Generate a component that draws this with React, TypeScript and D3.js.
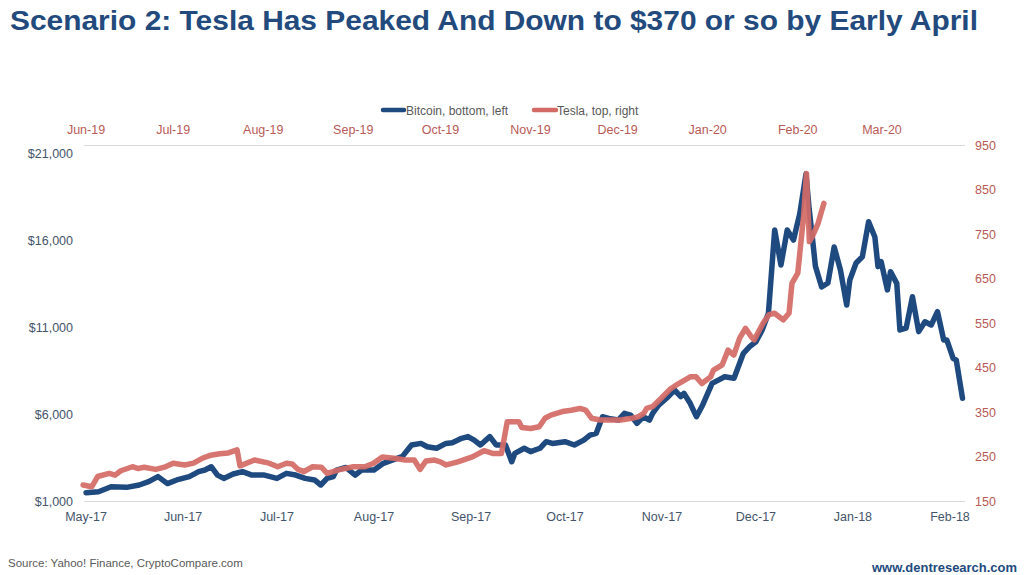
import React from "react";
import * as d3 from "d3";

const TITLE = "Scenario 2: Tesla Has Peaked And Down to $370 or so by Early April";
const SOURCE = "Source: Yahoo! Finance, CryptoCompare.com";
const SITE = "www.dentresearch.com";

// Bitcoin daily close (USD), bottom/left axes
const btcDates = [
  "2017-05-01","2017-05-05","2017-05-09","2017-05-14","2017-05-18","2017-05-21","2017-05-24","2017-05-27","2017-05-30",
  "2017-06-03","2017-06-06","2017-06-08","2017-06-10","2017-06-12","2017-06-14","2017-06-17","2017-06-20","2017-06-23","2017-06-27",
  "2017-07-01","2017-07-04","2017-07-07","2017-07-10","2017-07-13","2017-07-15","2017-07-17","2017-07-19","2017-07-20","2017-07-23","2017-07-26","2017-07-28",
  "2017-08-01","2017-08-04","2017-08-07","2017-08-10","2017-08-13","2017-08-16","2017-08-18","2017-08-21","2017-08-24","2017-08-26","2017-08-29","2017-08-31",
  "2017-09-02","2017-09-04","2017-09-07","2017-09-09","2017-09-12","2017-09-14","2017-09-15","2017-09-18","2017-09-20","2017-09-23","2017-09-25","2017-09-27",
  "2017-10-01","2017-10-04","2017-10-07","2017-10-09","2017-10-11","2017-10-13","2017-10-15","2017-10-18","2017-10-20","2017-10-22","2017-10-24","2017-10-26","2017-10-28","2017-10-29","2017-10-31",
  "2017-11-03","2017-11-05","2017-11-07","2017-11-08","2017-11-10","2017-11-12","2017-11-14","2017-11-17","2017-11-19","2017-11-21","2017-11-24","2017-11-27","2017-11-29",
  "2017-12-01","2017-12-03","2017-12-05","2017-12-07","2017-12-09","2017-12-11","2017-12-13","2017-12-15","2017-12-17","2017-12-18","2017-12-19","2017-12-20","2017-12-22","2017-12-24","2017-12-26","2017-12-28","2017-12-30","2017-12-31",
  "2018-01-02","2018-01-04","2018-01-06","2018-01-08","2018-01-09","2018-01-10","2018-01-12","2018-01-13","2018-01-15","2018-01-16","2018-01-18","2018-01-20","2018-01-22","2018-01-24","2018-01-26","2018-01-28","2018-01-30","2018-01-31",
  "2018-02-02","2018-02-03","2018-02-05"
];
const btcValues = [
  1480,1535,1820,1785,1920,2110,2400,2000,2210,
  2400,2690,2780,2970,2490,2300,2550,2690,2490,2490,
  2300,2590,2490,2300,2210,1920,2300,2400,2780,2930,2490,2780,
  2780,3165,3360,3550,4220,4310,4120,4030,4310,4350,4600,4700,
  4500,4220,4700,4220,4220,3260,3740,4030,3835,4030,4410,4310,
  4410,4220,4500,4790,4890,5845,5750,5655,6040,5940,5460,5840,5655,6040,6520,
  7000,7380,7000,7190,6615,5845,6520,7760,7950,8140,8050,9490,9870,
  10150,10830,11790,16575,14560,16575,16000,17500,19800,17800,16200,14500,13300,13530,15600,14280,12260,13700,
  14680,15040,17050,16170,14470,14760,13130,14180,13510,10830,10940,12740,10735,11300,11115,11880,10250,10250,
  9200,9100,6900
];

// Tesla daily close (USD), top/right axes
const tslaDates = [
  "2019-05-31","2019-06-03","2019-06-05","2019-06-09","2019-06-11","2019-06-13","2019-06-17","2019-06-19","2019-06-21","2019-06-25","2019-06-28",
  "2019-07-01","2019-07-05","2019-07-08","2019-07-11","2019-07-14","2019-07-17","2019-07-20","2019-07-23","2019-07-24","2019-07-29",
  "2019-08-03","2019-08-06","2019-08-09","2019-08-11","2019-08-13","2019-08-15","2019-08-18","2019-08-21","2019-08-23","2019-08-27",
  "2019-09-01","2019-09-05","2019-09-08","2019-09-11","2019-09-15","2019-09-19","2019-09-22","2019-09-24","2019-09-26","2019-09-29",
  "2019-10-01","2019-10-03","2019-10-07","2019-10-12","2019-10-16","2019-10-19","2019-10-22","2019-10-24","2019-10-28","2019-10-29",
  "2019-11-01","2019-11-04","2019-11-06","2019-11-08","2019-11-12","2019-11-15","2019-11-18","2019-11-20","2019-11-22","2019-11-25","2019-11-29",
  "2019-12-02","2019-12-06","2019-12-08","2019-12-10","2019-12-11","2019-12-13","2019-12-16","2019-12-19","2019-12-22","2019-12-26","2019-12-28","2019-12-30",
  "2020-01-02","2020-01-03","2020-01-06","2020-01-08","2020-01-10","2020-01-12","2020-01-14","2020-01-16","2020-01-17","2020-01-20","2020-01-22","2020-01-24","2020-01-27","2020-01-29","2020-01-30",
  "2020-02-01","2020-02-03","2020-02-04","2020-02-05","2020-02-06","2020-02-08","2020-02-10"
];
const tslaValues = [
  186,182,205,212,208,218,227,223,226,221,226,
  235,231,235,246,253,256,258,265,229,242,
  235,227,235,233,221,216,227,226,212,220,
  227,227,235,249,246,242,242,221,240,242,
  238,231,238,249,263,257,257,328,328,315,
  313,317,336,343,351,354,358,354,336,332,332,
  332,336,339,347,358,362,381,401,414,429,429,414,
  429,444,456,489,478,516,538,519,512,549,568,572,557,572,639,
  662,789,886,733,744,774,819
];

const leftTicks = [1000, 6000, 11000, 16000, 21000];
const rightTicks = [150, 250, 350, 450, 550, 650, 750, 850, 950];
const bottomTicks = ["2017-05-01","2017-06-01","2017-07-01","2017-08-01","2017-09-01","2017-10-01","2017-11-01","2017-12-01","2018-01-01","2018-02-01"];
const topTicks = ["2019-06-01","2019-07-01","2019-08-01","2019-09-01","2019-10-01","2019-11-01","2019-12-01","2020-01-01","2020-02-01","2020-03-01"];

const BLUE = "#1f4a80";
const RED = "#d46a65";
const AXIS_BLUE = "#44546a";
const AXIS_RED = "#b95a56";
const FONT = "Liberation Sans, Arial, sans-serif";

export default function App() {
  const parse = d3.timeParse("%Y-%m-%d");
  const fmt = d3.timeFormat("%b-%y");

  const xBottom = d3.scaleTime()
    .domain([parse("2017-05-01")!, parse("2018-02-01")!])
    .range([86, 950]);
  const xTop = d3.scaleTime()
    .domain([parse("2019-06-01")!, parse("2020-03-01")!])
    .range([86, 882]);
  const yLeft = d3.scaleLinear().domain([1000, 21000]).range([501, 153]);
  const yRight = d3.scaleLinear().domain([150, 950]).range([501, 145]);

  const btc = btcDates.map((d, i) => ({ d: parse(d)!, v: btcValues[i] }));
  const tsla = tslaDates.map((d, i) => ({ d: parse(d)!, v: tslaValues[i] }));

  const btcLine = d3.line<{ d: Date; v: number }>().x((p) => xBottom(p.d)).y((p) => yLeft(p.v));
  const tslaLine = d3.line<{ d: Date; v: number }>().x((p) => xTop(p.d)).y((p) => yRight(p.v));

  const plotL = 84, plotR = 965;
  const money = (v: number) => "$" + d3.format(",")(v);

  return (
    <svg width={1024} height={575} style={{ position: "absolute", left: 0, top: 0, background: "#fff" }} fontFamily={FONT}>
      <rect x={0} y={0} width={1024} height={575} fill="#fff" />
      <text x={10} y={30} fontSize={28} fontWeight="bold" fill="#234a7d" textLength={968} lengthAdjust="spacingAndGlyphs">{TITLE}</text>

      {/* legend */}
      <line x1={383} x2={404} y1={110} y2={110} stroke={BLUE} strokeWidth={4.5} strokeLinecap="round" />
      <text x={406} y={114.5} fontSize={12} fill="#595959">Bitcoin, bottom, left</text>
      <line x1={534} x2={556} y1={110} y2={110} stroke={RED} strokeWidth={4.5} strokeLinecap="round" />
      <text x={557} y={114.5} fontSize={12} fill="#595959">Tesla, top, right</text>

      {/* frame lines */}
      <line x1={plotL} x2={plotR} y1={145.5} y2={145.5} stroke="#d9d9d9" strokeWidth={1} />
      <line x1={plotL} x2={plotR} y1={501.5} y2={501.5} stroke="#d9d9d9" strokeWidth={1} />

      {/* left axis */}
      {leftTicks.map((t) => (
        <text key={"l" + t} x={73} y={yLeft(t) + 4.5} fontSize={12.5} textAnchor="end" fill={AXIS_BLUE}>{money(t)}</text>
      ))}
      {/* right axis */}
      {rightTicks.map((t) => (
        <text key={"r" + t} x={975} y={yRight(t) + 4.5} fontSize={12.5} fill={AXIS_RED}>{t}</text>
      ))}
      {/* bottom axis */}
      {bottomTicks.map((t) => (
        <text key={"b" + t} x={xBottom(parse(t)!)} y={520.5} fontSize={12.5} textAnchor="middle" fill={AXIS_BLUE}>{fmt(parse(t)!)}</text>
      ))}
      {/* top axis */}
      {topTicks.map((t) => (
        <text key={"t" + t} x={xTop(parse(t)!)} y={133.5} fontSize={12.5} textAnchor="middle" fill={AXIS_RED}>{fmt(parse(t)!)}</text>
      ))}

      {/* series */}
      <path d={btcLine(btc) || ""} fill="none" stroke={BLUE} strokeWidth={5.5} strokeLinejoin="round" strokeLinecap="round" />
      <path d={tslaLine(tsla) || ""} fill="none" stroke={RED} strokeWidth={5.5} strokeLinejoin="round" strokeLinecap="round" opacity={0.92} />

      {/* footer */}
      <text x={8} y={567} fontSize={11.5} fill="#595959">{SOURCE}</text>
      <text x={872} y={572} fontSize={13} fontWeight="bold" fill="#234a7d" textLength={145} lengthAdjust="spacingAndGlyphs">{SITE}</text>
    </svg>
  );
}
